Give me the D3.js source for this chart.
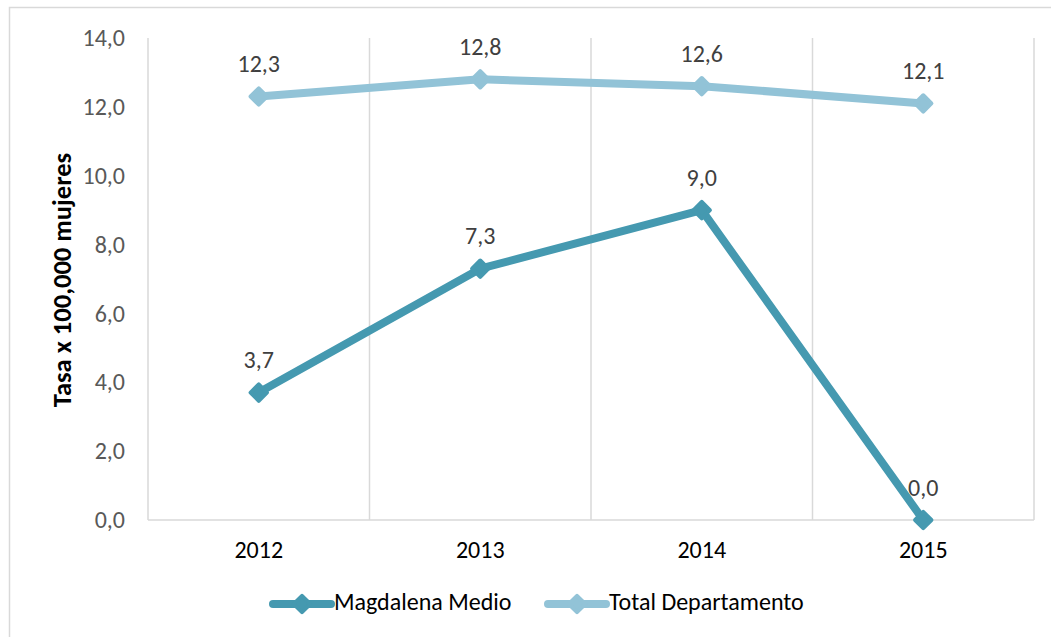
<!DOCTYPE html>
<html>
<head>
<meta charset="utf-8">
<script src="https://cdn.jsdelivr.net/npm/d3@7"></script>
<style>
  body { margin: 0; background: #fff; }
  svg text { font-family: Calibri, Carlito, "Open Sans", sans-serif; }
</style>
</head>
<body>
<svg id="chart" width="1051" height="637"></svg>
<script>
const years = ['2012', '2013', '2014', '2015'];
const magdalenaMedio = [3.7, 7.3, 9.0, 0.0];
const totalDepartamento = [12.3, 12.8, 12.6, 12.1];
const yTicks = [0, 2, 4, 6, 8, 10, 12, 14];

const series = [
    {name: 'Magdalena Medio', values: magdalenaMedio, color: '#4599B0'},
    {name: 'Total Departamento', values: totalDepartamento, color: '#92C3D7'}
];

const svg = d3.select('#chart');
const plotLeft = 148, plotRight = 1034, plotTop = 38, plotBottom = 520;
const gridColor = '#D9D9D9';
const fontSize = 24;
const fmt = v => d3.format('.1f')(v).replace('.', ',');

// chart frame
svg.append('rect')
    .attr('x', 9.5).attr('y', 7.5)
    .attr('width', 1100).attr('height', 700)
    .attr('fill', 'none')
    .attr('stroke', gridColor)
    .attr('stroke-width', 1.5);

const xScale = d3.scaleBand().domain(years).range([plotLeft, plotRight]);
const yScale = d3.scaleLinear().domain([0, 14]).range([plotBottom, plotTop]);

// vertical gridlines at category boundaries
const bounds = years.map(y => xScale(y)).concat([plotRight]);
svg.append('g')
    .selectAll('line')
    .data(bounds)
    .enter()
    .append('line')
    .attr('x1', d => d).attr('x2', d => d)
    .attr('y1', plotTop).attr('y2', plotBottom)
    .attr('stroke', gridColor)
    .attr('stroke-width', 1.5);

svg.append('line')
    .attr('x1', plotLeft).attr('x2', plotRight)
    .attr('y1', plotBottom).attr('y2', plotBottom)
    .attr('stroke', gridColor)
    .attr('stroke-width', 1.5);

// y axis labels
const yAxis = svg.append('g')
    .attr('transform', `translate(${plotLeft}, 0)`)
    .call(d3.axisLeft(yScale).tickValues(yTicks).tickSize(0).tickPadding(23).tickFormat(fmt));
yAxis.select('.domain').remove();
yAxis.selectAll('text')
    .attr('font-size', fontSize)
    .attr('fill', '#595959');

// x axis labels
const xAxis = svg.append('g')
    .attr('transform', `translate(0, ${plotBottom})`)
    .call(d3.axisBottom(xScale).tickSize(0).tickPadding(21));
xAxis.select('.domain').remove();
xAxis.selectAll('text')
    .attr('font-size', fontSize)
    .attr('fill', '#000');

// axis title
svg.append('text')
    .attr('transform', `translate(71, ${(plotTop + plotBottom) / 2 + 1}) rotate(-90)`)
    .attr('text-anchor', 'middle')
    .attr('font-size', 26.5)
    .attr('font-weight', 'bold')
    .attr('fill', '#000')
    .text('Tasa x 100,000 mujeres');

const cx = i => xScale(years[i]) + xScale.bandwidth() / 2;
const line = d3.line()
    .x((_, i) => cx(i))
    .y(d => yScale(d));
const diamond = d3.symbol().type(d3.symbolDiamond2).size(170);

series.forEach(s => {
    const g = svg.append('g');
    g.append('path')
        .datum(s.values)
        .attr('d', line)
        .attr('fill', 'none')
        .attr('stroke', s.color)
        .attr('stroke-width', 8)
        .attr('stroke-linejoin', 'round');

    g.selectAll('path.marker')
        .data(s.values)
        .enter()
        .append('path')
        .attr('class', 'marker')
        .attr('d', diamond)
        .attr('transform', (d, i) => `translate(${cx(i)}, ${yScale(d)})`)
        .attr('fill', s.color)
        .attr('stroke', s.color)
        .attr('stroke-width', 4)
        .attr('stroke-linejoin', 'round');

    g.selectAll('text.label')
        .data(s.values)
        .enter()
        .append('text')
        .attr('class', 'label')
        .attr('x', (d, i) => cx(i))
        .attr('y', d => yScale(d) - 24.5)
        .attr('text-anchor', 'middle')
        .attr('font-size', fontSize)
        .attr('fill', '#404040')
        .text(fmt);
});

// legend
const legendX = [273, 548];
series.forEach((s, i) => {
    const g = svg.append('g').attr('transform', `translate(${legendX[i]}, 604)`);
    g.append('line')
        .attr('x1', 0).attr('x2', 58)
        .attr('stroke', s.color)
        .attr('stroke-width', 8)
        .attr('stroke-linecap', 'round');
    g.append('path')
        .attr('d', diamond)
        .attr('transform', 'translate(29, 0)')
        .attr('fill', s.color)
        .attr('stroke', s.color)
        .attr('stroke-width', 4)
        .attr('stroke-linejoin', 'round');
    g.append('text')
        .attr('x', 61)
        .attr('y', 6)
        .attr('font-size', fontSize)
        .attr('fill', '#000')
        .text(s.name);
});
</script>
</body>
</html>
